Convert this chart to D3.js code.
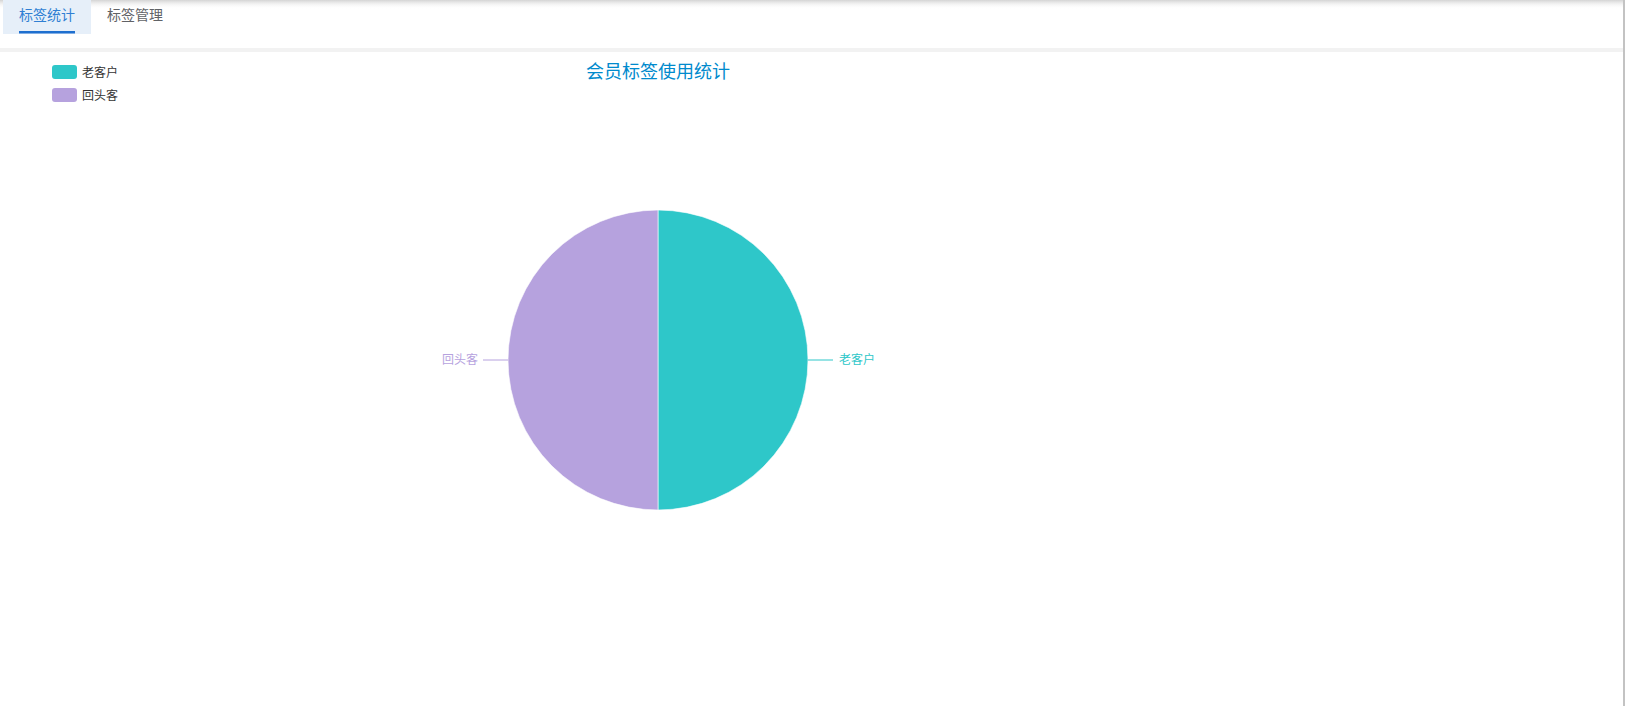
<!DOCTYPE html>
<html><head><meta charset="utf-8">
<script src="https://cdn.jsdelivr.net/npm/d3@7/dist/d3.min.js"></script>
<style>
html,body{margin:0;padding:0;background:#fff;}
body{width:1626px;height:706px;overflow:hidden;font-family:"Noto Sans CJK SC","Microsoft YaHei",sans-serif;}
</style></head>
<body>
<svg id="chart" width="1626" height="706"></svg>
<script>
const tabs = ["标签统计", "标签管理"];
const title = "会员标签使用统计";
const categories = ["老客户", "回头客"];
const values = [1, 1];
const colors = ["#2ec7c9", "#b6a2de"];

const svg = d3.select("#chart");
const font = '"Noto Sans CJK SC", sans-serif';

// top shadow
const defs = svg.append("defs");
const g1 = defs.append("linearGradient").attr("id","sh").attr("x1",0).attr("y1",0).attr("x2",0).attr("y2",1);
g1.append("stop").attr("offset",0).attr("stop-color","#d4d4d4");
g1.append("stop").attr("offset",1).attr("stop-color","#ffffff").attr("stop-opacity",0);
svg.append("rect").attr("x",0).attr("y",0).attr("width",1623).attr("height",9).attr("fill","url(#sh)");

// tabs
svg.append("rect").attr("x",3).attr("y",0).attr("width",88).attr("height",34).attr("fill","#e6eff9");
const tabX = d3.scaleOrdinal().domain(tabs).range([19, 107]);
svg.selectAll("text.tab").data(tabs).enter().append("text")
  .attr("class","tab").attr("x", d=>tabX(d)).attr("y", 20)
  .attr("font-family", font).attr("font-size", 14)
  .attr("fill", (d,i)=> i===0 ? "#2f7fd3" : "#606266").text(d=>d);
svg.append("rect").attr("x",19).attr("y",31).attr("width",56).attr("height",2.5).attr("fill","#1e6fcf");

// gray band
svg.append("rect").attr("x",0).attr("y",48).attr("width",1623).attr("height",4).attr("fill","#f2f2f2");
// right border
svg.append("rect").attr("x",1623).attr("y",0).attr("width",2).attr("height",706).attr("fill","#c3c3c3");

// title
svg.append("text").attr("x",658).attr("y",78).attr("text-anchor","middle")
  .attr("font-family",font).attr("font-size",18).attr("fill","#008acd").text(title);

// legend
const legY = d3.scalePoint().domain(categories).range([72, 95]);
const leg = svg.selectAll("g.leg").data(categories).enter().append("g").attr("class","leg")
  .attr("transform", d=>`translate(52,${legY(d)})`);
leg.append("rect").attr("x",0).attr("y",-7).attr("width",25).attr("height",14).attr("rx",3)
  .attr("fill",(d,i)=>colors[i]);
leg.append("text").attr("x",30).attr("y",4.5).attr("font-family",font).attr("font-size",12)
  .attr("fill","#333").text(d=>d);

// pie
const cx = 658, cy = 360, r = 150;
const pie = d3.pie().sort(null).value(d=>d)(values);
const arc = d3.arc().innerRadius(0).outerRadius(r);
const pg = svg.append("g").attr("transform",`translate(${cx},${cy})`);
pg.selectAll("path").data(pie).enter().append("path")
  .attr("d", arc).attr("fill",(d,i)=>colors[i]).attr("stroke","#fff").attr("stroke-width",0.6);

// labels
pie.forEach((d,i)=>{
  const a = (d.startAngle + d.endAngle)/2;
  const sx = Math.sin(a), sy = -Math.cos(a);
  const x0 = sx*r, y0 = sy*r, x1 = sx*(r+25), y1 = sy*(r+25);
  pg.append("line").attr("x1",x0).attr("y1",y0).attr("x2",x1).attr("y2",y1)
    .attr("stroke",colors[i]).attr("stroke-width",1);
  pg.append("text").attr("x", x1 + (sx>0?6:-5)).attr("y", y1+4)
    .attr("text-anchor", sx>0?"start":"end").attr("font-family",font).attr("font-size",12)
    .attr("fill",colors[i]).text(categories[i]);
});
</script>
</body></html>
